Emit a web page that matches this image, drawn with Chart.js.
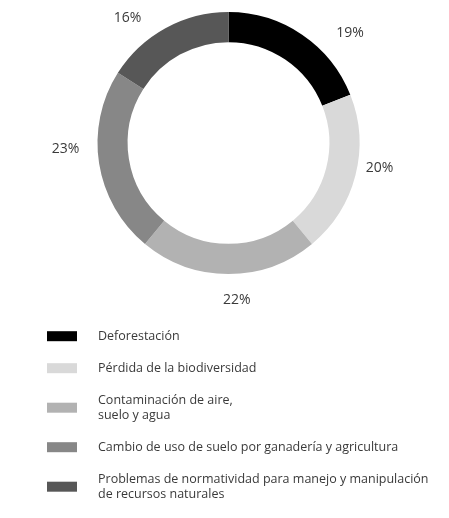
<!DOCTYPE html>
<html>
<head>
<meta charset="utf-8">
<script src="https://cdn.jsdelivr.net/npm/chart.js@4.4.1/dist/chart.umd.min.js"></script>
<style>
  html, body { margin: 0; padding: 0; background: #ffffff; }
  #wrap { width: 449px; height: 518px; position: relative; }
</style>
</head>
<body>
<div id="wrap"><canvas id="c"></canvas></div>
<script>
const categories = [
  "Deforestación",
  "Pérdida de la biodiversidad",
  ["Contaminación de aire,", "suelo y agua"],
  "Cambio de uso de suelo por ganadería y agricultura",
  ["Problemas de normatividad para manejo y manipulación", "de recursos naturales"]
];
const shares = [19, 20, 22, 23, 16];
const valueLabels = ["19%", "20%", "22%", "23%", "16%"];
const sliceColors = ["#000000", "#d9d9d9", "#b2b2b2", "#878787", "#575757"];

const FONT = "'Open Sans', 'Noto Sans', sans-serif";
const TEXT_COLOR = "#3a3a3a";
// angular nudge (degrees) of each percentage label relative to its slice middle
const LABEL_NUDGE = [13.6, -5, -3, 7, -10];
const LABEL_GAP = [33, 22, 26, 32, 30];

const labelPlugin = {
  id: "labelsAndLegend",
  afterDraw(chart) {
    const ctx = chart.ctx;
    const meta = chart.getDatasetMeta(0);
    ctx.save();
    ctx.font = "14px " + FONT;
    ctx.fillStyle = TEXT_COLOR;
    ctx.textAlign = "center";
    ctx.textBaseline = "middle";
    meta.data.forEach((arc, i) => {
      const mid = (arc.startAngle + arc.endAngle) / 2 + LABEL_NUDGE[i] * Math.PI / 180;
      const r = arc.outerRadius + LABEL_GAP[i];
      ctx.fillText(valueLabels[i], arc.x + Math.cos(mid) * r, arc.y + Math.sin(mid) * r);
    });
    ctx.font = "12.5px " + FONT;
    ctx.textAlign = "left";
    const lineH = 15, gap = 17, boxX = 47, boxW = 30, boxH = 10, textX = 98;
    let top = 328.7;
    chart.data.labels.forEach((lab, i) => {
      const lines = Array.isArray(lab) ? lab : [lab];
      const h = lines.length * lineH;
      const cy = top + h / 2;
      ctx.fillStyle = sliceColors[i];
      ctx.fillRect(boxX, cy - boxH / 2, boxW, boxH);
      ctx.fillStyle = TEXT_COLOR;
      lines.forEach((t, j) => {
        ctx.fillText(t, textX, top + lineH / 2 + j * lineH + 0.5);
      });
      top += h + gap;
    });
    ctx.restore();
  }
};

new Chart(document.getElementById("c"), {
  type: "doughnut",
  data: {
    labels: categories,
    datasets: [{
      data: shares,
      backgroundColor: sliceColors,
      borderWidth: 0
    }]
  },
  options: {
    responsive: true,
    maintainAspectRatio: false,
    animation: false,
    cutout: "77%",
    layout: { padding: { top: 12, bottom: 244, left: 97.5, right: 89.5 } },
    plugins: {
      legend: { display: false },
      tooltip: { enabled: false }
    }
  },
  plugins: [labelPlugin]
});
</script>
</body>
</html>
